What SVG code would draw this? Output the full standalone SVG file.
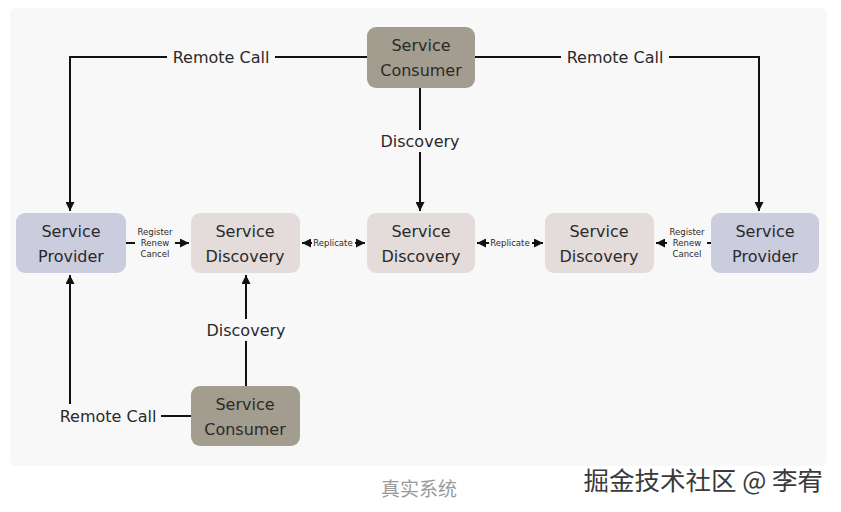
<svg xmlns="http://www.w3.org/2000/svg" width="841" height="512" viewBox="0 0 841 512">
<defs>
<marker id="ah" viewBox="0 0 10 10" refX="10" refY="5" markerWidth="9" markerHeight="9" markerUnits="userSpaceOnUse" orient="auto-start-reverse">
<path d="M0,0 L10,5 L0,10 z" fill="#111"/>
</marker>
<style>
.lbl{font-family:"DejaVu Sans","Liberation Sans",sans-serif;font-size:16px;fill:#2a2a2a;text-anchor:middle}
.sm{font-family:"DejaVu Sans","Liberation Sans",sans-serif;font-size:8.5px;fill:#2a2a2a;text-anchor:middle}
.ln{fill:none;stroke:#111;stroke-width:2}
.mask{fill:#f9f8f9}
.cons{fill:#a29d8e}
.prov{fill:#ccccdf}
.disc{fill:#e4dcda}
</style>
</defs>
<rect x="0" y="0" width="841" height="512" fill="#ffffff"/>
<rect x="10" y="8" width="817" height="458" rx="6" fill="#f9f8f9"/>

<g id="connectors">
<path class="ln" d="M367,57 H70 V211" marker-end="url(#ah)"/>
<path class="ln" d="M475,57 H759 V211" marker-end="url(#ah)"/>
<path class="ln" d="M420,88 V211" marker-end="url(#ah)"/>
<path class="ln" d="M246,386 V275" marker-end="url(#ah)"/>
<path class="ln" d="M191,416 H70 V275" marker-end="url(#ah)"/>
<path class="ln" d="M126,243 H189" marker-end="url(#ah)"/>
<path class="ln" d="M711,243 H656" marker-end="url(#ah)"/>
<path class="ln" d="M302,243 H365" marker-start="url(#ah)" marker-end="url(#ah)"/>
<path class="ln" d="M477,243 H543" marker-start="url(#ah)" marker-end="url(#ah)"/>

<rect class="mask" x="167" y="47" width="108" height="20"/>
<text class="lbl" x="221" y="63">Remote Call</text>
<rect class="mask" x="561" y="47" width="108" height="20"/>
<text class="lbl" x="615" y="63">Remote Call</text>
<rect class="mask" x="378" y="130" width="84" height="22"/>
<text class="lbl" x="420" y="147">Discovery</text>
<rect class="mask" x="204" y="319" width="84" height="22"/>
<text class="lbl" x="246" y="336">Discovery</text>
<rect class="mask" x="55" y="404" width="106" height="24"/>
<text class="lbl" x="108" y="422">Remote Call</text>

<rect class="mask" x="135" y="225" width="40" height="36"/>
<text class="sm" x="155" y="235">Register</text>
<text class="sm" x="155" y="246">Renew</text>
<text class="sm" x="155" y="257">Cancel</text>
<rect class="mask" x="667" y="225" width="40" height="36"/>
<text class="sm" x="687" y="235">Register</text>
<text class="sm" x="687" y="246">Renew</text>
<text class="sm" x="687" y="257">Cancel</text>
<rect class="mask" x="312" y="237" width="43" height="12"/>
<text class="sm" x="333" y="246">Replicate</text>
<rect class="mask" x="489" y="237" width="43" height="12"/>
<text class="sm" x="510" y="246">Replicate</text>
</g>

<g id="consumer-top">
<rect class="cons" x="367" y="27" width="108" height="61" rx="9"/>
<text class="lbl" x="421" y="51">Service</text>
<text class="lbl" x="421" y="76">Consumer</text>
</g>
<g id="provider-left">
<rect class="prov" x="16" y="213" width="110" height="60" rx="9"/>
<text class="lbl" x="71" y="237">Service</text>
<text class="lbl" x="71" y="262">Provider</text>
</g>
<g id="discovery-left">
<rect class="disc" x="191" y="213" width="109" height="60" rx="9"/>
<text class="lbl" x="245" y="237">Service</text>
<text class="lbl" x="245" y="262">Discovery</text>
</g>
<g id="discovery-center">
<rect class="disc" x="367" y="213" width="108" height="60" rx="9"/>
<text class="lbl" x="421" y="237">Service</text>
<text class="lbl" x="421" y="262">Discovery</text>
</g>
<g id="discovery-right">
<rect class="disc" x="545" y="213" width="109" height="60" rx="9"/>
<text class="lbl" x="599" y="237">Service</text>
<text class="lbl" x="599" y="262">Discovery</text>
</g>
<g id="provider-right">
<rect class="prov" x="711" y="213" width="108" height="60" rx="9"/>
<text class="lbl" x="765" y="237">Service</text>
<text class="lbl" x="765" y="262">Provider</text>
</g>
<g id="consumer-bottom">
<rect class="cons" x="191" y="386" width="109" height="60" rx="9"/>
<text class="lbl" x="245" y="410">Service</text>
<text class="lbl" x="245" y="435">Consumer</text>
</g>

<text x="419" y="496" font-family="'Noto Sans CJK SC',sans-serif" font-size="19" fill="#9a9a9a" text-anchor="middle">真实系统</text>
<text x="823" y="490" font-family="'Noto Sans CJK SC',sans-serif" font-size="25.5" fill="#3a3a3a" stroke="#ffffff" stroke-width="0.6" paint-order="stroke" text-anchor="end">掘金技术社区 @ 李宥</text>
</svg>
